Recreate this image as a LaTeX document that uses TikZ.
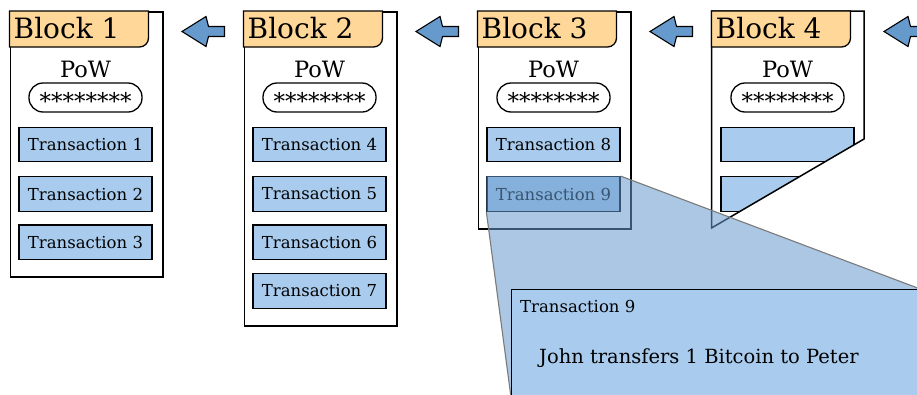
\documentclass[tikz,border=0pt]{standalone}
\usepackage{fontspec}
\setmainfont{DejaVu Serif}
\definecolor{hdr}{HTML}{FFD899}
\definecolor{txf}{HTML}{A9CCEE}
\definecolor{arr}{HTML}{6699CC}
\definecolor{zoomline}{HTML}{7A7A7A}
\tikzset{
  blk/.style={draw, line width=1.5pt, fill=white, minimum width=152.5pt, anchor=north west, inner sep=0pt},
  hdrbox/.style={draw, line width=1.3pt, fill=hdr},
  ttl/.style={anchor=base west, inner sep=0pt, font=\fontsize{28}{30}\selectfont},
  pow/.style={anchor=base, inner sep=0pt, font=\fontsize{22.5}{25}\selectfont},
  stars/.style={draw, line width=1.3pt, rounded corners=14pt, minimum width=113pt, minimum height=29pt, inner sep=0pt, text height=23pt, text depth=0pt, font=\fontsize{23}{25}\selectfont},
  tx/.style={draw, line width=1.3pt, fill=txf, minimum width=133pt, minimum height=34.5pt, inner sep=0pt, font=\fontsize{16.5}{18}\selectfont},
  larrow/.pic={\draw[fill=arr, line width=1.1pt, line join=miter] (-21.5,0) -- (2.5,-15) -- (5,-5) -- (21,-5) -- (21,5) -- (5,5) -- (2.5,15) -- cycle;},
  zoomfill/.style={fill=arr, opacity=0.55},
  zoomedge/.style={draw=zoomline, line width=1.1pt},
  callout/.style={draw, line width=1.3pt, fill=txf, anchor=north west, minimum width=408pt, minimum height=107pt, inner sep=0pt},
}
\newcommand{\blockhead}[2]{%
  \draw[hdrbox] (#1,11) -- (#1+139,11) -- (#1+139,38) arc[start angle=0, end angle=90, radius=9] -- (#1,47) -- cycle;
  \node[ttl] at (#1+4,38) {Block #2};
  \node[pow] at (#1+76,77.7) {PoW};
  \node[stars] at (#1+76,97.5) {********};
}
\begin{document}
\begin{tikzpicture}[x=1pt,y=-1pt]
\useasboundingbox (0,0) rectangle (917,394);

% Block 1
\node[blk, minimum height=265pt] (b1) at (9.5,11) {};
\blockhead{9.5}{1}
\node[tx] (t1) at (85.5,144.5) {Transaction 1};
\node[tx] (t2) at (85.5,194) {Transaction 2};
\node[tx] (t3) at (85.5,242.3) {Transaction 3};

% Block 2
\node[blk, minimum height=314pt] (b2) at (243.5,11) {};
\blockhead{243.5}{2}
\node[tx] (t4) at (319.5,144.5) {Transaction 4};
\node[tx] (t5) at (319.5,194) {Transaction 5};
\node[tx] (t6) at (319.5,242.3) {Transaction 6};
\node[tx] (t7) at (319.5,291) {Transaction 7};

% Block 3
\node[blk, minimum height=217pt] (b3) at (477.5,11) {};
\blockhead{477.5}{3}
\node[tx] (t8) at (553.5,144.5) {Transaction 8};
\node[tx] (t9) at (553.5,194) {Transaction 9};

% Block 4 (cut off)
\fill[white] (711.5,11) -- (864,11) -- (864,139) -- (711.5,228) -- cycle;
\begin{scope}
  \clip (711.5,11) -- (864,11) -- (864,139) -- (711.5,228) -- cycle;
  \node[tx] (t10) at (787.5,144.5) {};
  \node[tx] (t11) at (787.5,194) {};
\end{scope}
\draw[line width=1.5pt, line join=miter] (711.5,11) -- (864,11) -- (864,139) -- (711.5,228) -- cycle;
\blockhead{711.5}{4}

% chain arrows
\coordinate (a1) at (203.5,31.5);
\coordinate (a2) at (437.5,31.5);
\coordinate (a3) at (671.5,31.5);
\coordinate (a4) at (905.5,31.5);
\pic at (a1) {larrow};
\pic at (a2) {larrow};
\pic at (a3) {larrow};
\pic at (a4) {larrow};

% zoom callout
\node[callout] (call) at (511,289) {};
\fill[zoomfill] (t9.north west) -- (t9.north east) -- (call.north east) -- (call.south west) -- (t9.south west) -- cycle;
\draw[zoomedge] (t9.north east) -- (call.north east);
\draw[zoomedge] (t9.south west) -- (call.south west);
\node[callout] at (511,289) {};
\node[anchor=base west, inner sep=0pt, font=\fontsize{16.5}{18}\selectfont] (ct) at (520,312.7) {Transaction 9};
\node[anchor=base west, inner sep=0pt, font=\fontsize{19.5}{22}\selectfont] (cd) at (539,363.3) {John transfers 1 Bitcoin to Peter};
\end{tikzpicture}
\end{document}
